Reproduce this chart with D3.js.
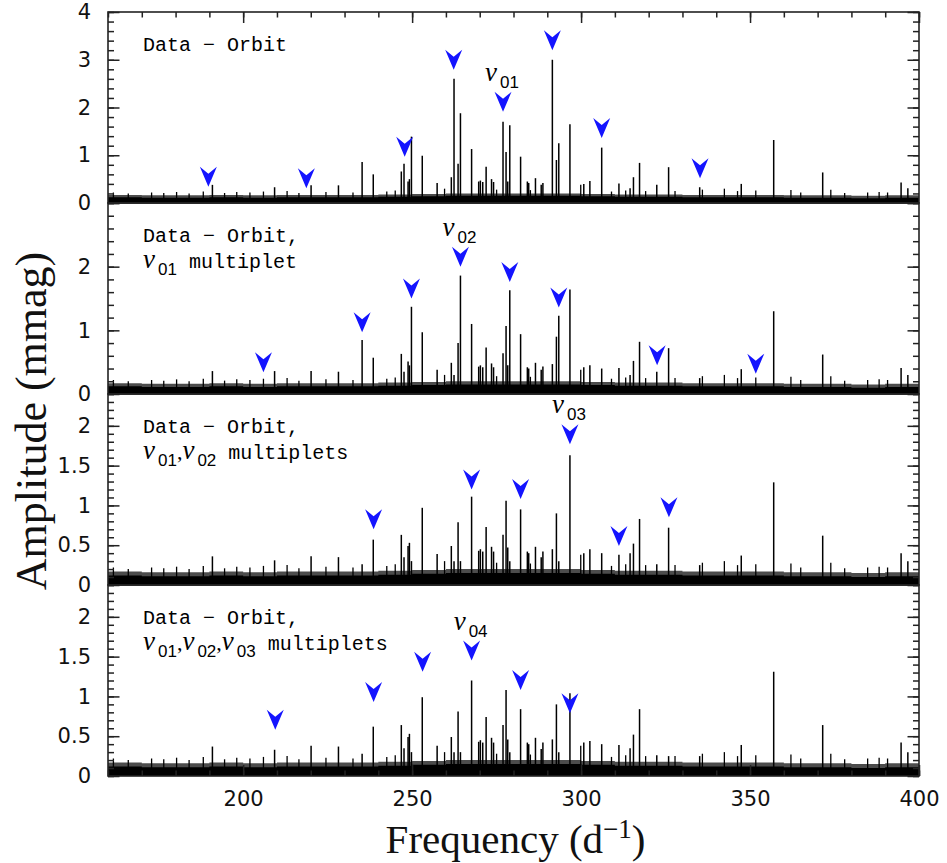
<!DOCTYPE html>
<meta charset="utf-8">
<script src="https://d3js.org/d3.v7.min.js"></script>
<style>
body { margin: 0; background: #fff; }
svg { display: block; }
text { white-space: pre; }
</style>
<body></body>
<script>

// ---- data ----
// frequencies (d^-1) of the visible peaks, shared by the four panels
var peakFreq = [190.9, 209.3, 220.1, 228.2, 235.2, 238.5, 246.8, 247.6, 248.8, 249.2,
  249.8, 253.0, 257.4, 261.6, 262.4, 263.6, 264.3, 267.6, 269.7, 270.2,
  270.9, 271.9, 273.5, 274.1, 276.9, 277.8, 278.3, 278.9, 282.1, 284.1,
  284.5, 286.5, 288.2, 288.7, 291.5, 292.7, 293.4, 296.7, 300.8, 302.6,
  306.1, 311.2, 314.5, 315.5, 317.3, 322.4, 325.9, 335.1, 347.4, 357.0,
  371.5, 394.7, 396.7];

// amplitudes (mmag), one list per panel
var ampOrbit = [0.38, 0.33, 0.37, 0.37, 0.86, 0.60, 0.66, 0.82, 0.45, 0.50,
  1.39, 0.99, 0.42, 0.54, 2.60, 0.82, 1.88, 1.13, 0.45, 0.47,
  0.44, 0.76, 0.50, 0.44, 1.70, 1.07, 0.45, 1.63, 0.97, 0.45,
  0.42, 0.52, 0.38, 0.42, 3.00, 0.90, 1.25, 1.65, 0.40, 0.46,
  1.16, 0.41, 0.31, 0.54, 0.84, 0.38, 0.75, 0.33, 0.40, 1.32,
  0.64, 0.43, 0.31];
var ampNu01 = [0.36, 0.36, 0.36, 0.35, 0.85, 0.57, 0.63, 0.35, 0.51, 0.45,
  1.37, 0.97, 0.38, 0.49, 0.30, 0.80, 1.86, 1.10, 0.43, 0.45,
  0.42, 0.73, 0.48, 0.42, 0.64, 1.07, 0.45, 1.63, 0.94, 0.42,
  0.40, 0.49, 0.38, 0.43, 0.47, 0.90, 1.23, 1.64, 0.42, 0.45,
  0.40, 0.41, 0.30, 0.52, 0.82, 0.35, 0.72, 0.25, 0.39, 1.30,
  0.62, 0.41, 0.30];
var ampNu02 = [0.36, 0.31, 0.36, 0.35, 0.26, 0.57, 0.63, 0.35, 0.49, 0.53,
  0.30, 0.97, 0.39, 0.49, 0.30, 0.79, 0.30, 1.11, 0.43, 0.45,
  0.42, 0.73, 0.48, 0.42, 0.63, 1.06, 0.47, 0.30, 0.95, 0.42,
  0.40, 0.48, 0.35, 0.42, 0.45, 0.90, 0.30, 1.63, 0.40, 0.45,
  0.40, 0.38, 0.40, 0.52, 0.83, 0.26, 0.72, 0.25, 0.37, 1.29,
  0.62, 0.40, 0.30];
var ampNu03 = [0.37, 0.33, 0.38, 0.37, 0.28, 0.62, 0.64, 0.35, 0.49, 0.53,
  0.30, 0.99, 0.38, 0.49, 0.30, 0.81, 0.30, 1.20, 0.43, 0.45,
  0.42, 0.74, 0.48, 0.42, 0.64, 1.08, 0.46, 0.30, 0.84, 0.42,
  0.40, 0.48, 0.34, 0.42, 0.46, 0.90, 0.30, 1.04, 0.42, 0.44,
  0.40, 0.39, 0.35, 0.52, 0.84, 0.26, 0.25, 0.25, 0.39, 1.31,
  0.64, 0.42, 0.30];

// small spikes poking out of the noise, same in every panel
var grassFreq = [161.6, 166.0, 172.9, 176.5, 180.3, 184.0, 188.2, 194.5, 198.1, 202.0,
  206.0, 213.0, 216.5, 224.5, 232.5, 242.5, 245.0, 259.6, 275.0, 285.0,
  299.9, 309.0, 313.2, 319.1, 327.8, 335.9, 342.4, 346.3, 351.7, 362.1,
  365.0, 373.9, 378.0, 384.8, 388.2, 390.7];
var grassAmp = [0.22, 0.20, 0.22, 0.21, 0.23, 0.20, 0.24, 0.21, 0.23, 0.22,
  0.24, 0.25, 0.21, 0.23, 0.22, 0.24, 0.26, 0.30, 0.28, 0.27,
  0.38, 0.24, 0.26, 0.25, 0.25, 0.28, 0.30, 0.25, 0.26, 0.27,
  0.22, 0.28, 0.21, 0.22, 0.23, 0.22];

// noise floor level (mmag), every 10 d^-1 from 160 to 400
var noiseFreq = [160, 170, 180, 190, 200, 210, 220, 230, 240, 250, 260, 270, 280,
  290, 300, 310, 320, 330, 340, 350, 360, 370, 380, 390, 400];
var noiseAmp = [0.12, 0.11, 0.11, 0.12, 0.11, 0.12, 0.12, 0.12, 0.13, 0.14, 0.15, 0.15, 0.15,
  0.15, 0.14, 0.13, 0.13, 0.12, 0.12, 0.12, 0.11, 0.11, 0.10, 0.11, 0.11];

// blue arrows: frequency and amplitude of the arrow tip
var arrowFreq = [
  [189.7, 218.7, 247.8, 262.3, 276.9, 291.5, 306.1, 335.2],
  [206.0, 235.2, 249.8, 264.3, 278.9, 293.4, 322.5, 351.7],
  [238.6, 267.6, 282.1, 296.7, 311.2, 326.0],
  [209.5, 238.6, 253.1, 267.6, 282.1, 296.7]
];
var arrowTip = [
  [0.34, 0.31, 0.97, 2.79, 1.91, 3.20, 1.36, 0.52],
  [0.34, 0.97, 1.50, 2.00, 1.76, 1.36, 0.45, 0.32],
  [0.70, 1.20, 1.08, 1.77, 0.49, 0.85],
  [0.58, 0.93, 1.31, 1.45, 1.08, 0.79]
];
// which arrow carries the nu label, and its subscript
var nuArrow = [4, 3, 3, 3];
var nuSub = ["01", "02", "03", "04"];

var yMax = [4, 3, 2.4, 2.4];
var yMajorStep = [1, 1, 0.5, 0.5];
var yMinorStep = [0.2, 0.2, 0.1, 0.1];
var yTickLabels = [[0, 1, 2, 3, 4], [0, 1, 2], [0, 0.5, 1, 1.5, 2], [0, 0.5, 1, 1.5, 2]];
var xTickLabels = [200, 250, 300, 350, 400];

var panelLine1 = ["Data \u2212 Orbit", "Data \u2212 Orbit,", "Data \u2212 Orbit,", "Data \u2212 Orbit,"];
var panelNus = [[], ["01"], ["01", "02"], ["01", "02", "03"]];
var panelWord = ["", " multiplet", " multiplets", " multiplets"];

var amps = [ampOrbit, ampNu01, ampNu02, ampNu03];

// ---- layout ----
var width = 947, height = 863;
var pLeft = 108, pRight = 919, pTop = 12, pBottom = 776;
var panelH = (pBottom - pTop) / 4;

var svg = d3.select("body").append("svg")
  .attr("width", width)
  .attr("height", height);

var x = d3.scaleLinear().domain([160, 400]).range([pLeft, pRight]);

var defs = svg.append("defs");

function richText(sel, xx, yy, segs, anchor) {
  var t = sel.append("text").attr("x", xx).attr("y", yy)
    .attr("text-anchor", anchor || "start").attr("fill", "#000");
  var shift = 0;
  segs.forEach(function(s) {
    var ts = t.append("tspan").text(s.text);
    var want = s.kind === "sub" ? 7 : 0;
    if (want !== shift) { ts.attr("dy", want - shift); shift = want; }
    if (s.kind === "nu") {
      ts.attr("font-family", "'Liberation Serif', serif").attr("font-style", "italic").attr("font-size", 27);
    } else if (s.kind === "sub") {
      ts.attr("dx", 3).attr("font-family", "'Liberation Sans', sans-serif").attr("font-size", 17);
    } else if (s.kind === "comma") {
      ts.attr("font-family", "'Liberation Serif', serif").attr("font-size", 22);
    } else {
      ts.attr("font-family", "'Liberation Mono', monospace").attr("font-size", 20);
    }
  });
  return t;
}

for (var i = 0; i < 4; i++) {
  var y0 = pTop + i * panelH, y1 = pTop + (i + 1) * panelH;
  var y = d3.scaleLinear().domain([0, yMax[i]]).range([y1, y0]);
  var g = svg.append("g").attr("class", "panel");

  defs.append("clipPath").attr("id", "clip" + i)
    .append("rect").attr("x", pLeft).attr("y", y0).attr("width", pRight - pLeft).attr("height", panelH);

  var plot = g.append("g").attr("clip-path", "url(#clip" + i + ")");

  // noise band: solid floor plus a ragged darker fringe
  var noise = noiseFreq.map(function(f, k) { return {f: f, a: noiseAmp[k]}; });
  plot.append("path")
    .datum(noise)
    .attr("fill", "#000")
    .attr("fill-opacity", 0.7)
    .attr("d", d3.area().curve(d3.curveStepAfter)
      .x(function(d) { return x(d.f); })
      .y0(y(0))
      .y1(function(d) { return y(d.a + 0.05); }));
  plot.append("path")
    .datum(noise)
    .attr("fill", "#000")
    .attr("d", d3.area().curve(d3.curveStepAfter)
      .x(function(d) { return x(d.f); })
      .y0(y(0))
      .y1(function(d) { return y(d.a); }));

  // small spikes
  plot.selectAll(".grass")
    .data(grassFreq.map(function(f, k) { return {f: f, a: grassAmp[k]}; }))
    .enter().append("line")
    .attr("class", "grass")
    .attr("x1", function(d) { return x(d.f); })
    .attr("x2", function(d) { return x(d.f); })
    .attr("y1", y(0))
    .attr("y2", function(d) { return y(d.a); })
    .attr("stroke", "#000")
    .attr("stroke-width", 1.3);

  // peaks
  plot.selectAll(".peak")
    .data(peakFreq.map(function(f, k) { return {f: f, a: amps[i][k]}; }))
    .enter().append("line")
    .attr("class", "peak")
    .attr("x1", function(d) { return x(d.f); })
    .attr("x2", function(d) { return x(d.f); })
    .attr("y1", y(0))
    .attr("y2", function(d) { return y(d.a); })
    .attr("stroke", "#000")
    .attr("stroke-width", 1.5);

  // frame
  g.append("rect")
    .attr("x", pLeft).attr("y", y0)
    .attr("width", pRight - pLeft).attr("height", panelH)
    .attr("fill", "none").attr("stroke", "#222").attr("stroke-width", 1.6);

  // y ticks, inward on both sides
  var majors = d3.range(0, yMax[i] + 1e-9, yMajorStep[i]);
  var minors = d3.range(0, yMax[i] + 1e-9, yMinorStep[i]);
  var labels = yTickLabels[i];
  g.append("g").attr("transform", "translate(" + pLeft + ",0)")
    .call(d3.axisLeft(y).tickValues(minors).tickSize(-6).tickFormat(""));
  g.append("g").attr("transform", "translate(" + pLeft + ",0)")
    .call(d3.axisLeft(y).tickValues(majors).tickSize(-11.5).tickFormat(""));
  g.append("g").attr("transform", "translate(" + pLeft + ",0)")
    .attr("class", "ylab")
    .call(d3.axisLeft(y).tickValues(labels).tickSize(0).tickPadding(17)
      .tickFormat(function(d) { return String(d); }));
  g.append("g").attr("transform", "translate(" + pRight + ",0)")
    .call(d3.axisRight(y).tickValues(minors).tickSize(-6).tickFormat(""));
  g.append("g").attr("transform", "translate(" + pRight + ",0)")
    .call(d3.axisRight(y).tickValues(majors).tickSize(-11.5).tickFormat(""));

  // arrows
  g.selectAll(".arrow")
    .data(arrowFreq[i].map(function(f, k) { return {f: f, a: arrowTip[i][k]}; }))
    .enter().append("path")
    .attr("class", "arrow")
    .attr("transform", function(d) { return "translate(" + x(d.f) + "," + y(d.a) + ")"; })
    .attr("d", "M0,0L-8.5,-20L0,-13L8.5,-20Z")
    .attr("fill", "#1414ff");

  // nu label above the marked arrow
  var ia = nuArrow[i];
  richText(g, x(arrowFreq[i][ia]) - 1, y(arrowTip[i][ia]) - 31,
    [{text: "\u03bd", kind: "nu"}, {text: nuSub[i], kind: "sub"}], "middle");

  // panel caption
  richText(g, 143, y0 + 39, [{text: panelLine1[i], kind: "mono"}]);
  if (panelNus[i].length) {
    var segs = [];
    panelNus[i].forEach(function(s, k) {
      if (k > 0) segs.push({text: ",", kind: "comma"});
      segs.push({text: "\u03bd", kind: "nu"});
      segs.push({text: s, kind: "sub"});
    });
    segs.push({text: panelWord[i], kind: "mono"});
    richText(g, 143, y0 + 65, segs);
  }

  // x ticks: top of first panel, bottom of last
  if (i === 0) {
    g.append("g").attr("transform", "translate(0," + y0 + ")")
      .call(d3.axisTop(x).ticks(24).tickSize(-5.5).tickFormat(""));
    g.append("g").attr("transform", "translate(0," + y0 + ")")
      .call(d3.axisTop(x).tickValues(xTickLabels).tickSize(-11).tickFormat(""));
  }
  if (i === 3) {
    g.append("g").attr("transform", "translate(0," + y1 + ")")
      .call(d3.axisBottom(x).ticks(24).tickSize(-5.5).tickFormat(""));
    g.append("g").attr("transform", "translate(0," + y1 + ")")
      .attr("class", "xlab")
      .call(d3.axisBottom(x).tickValues(xTickLabels).tickSize(-11).tickPadding(15));
  }
}

svg.selectAll(".domain").remove();
svg.selectAll(".tick line").attr("stroke", "#222").attr("stroke-width", 1.5);
svg.selectAll(".ylab text, .xlab text")
  .attr("font-family", "'DejaVu Sans', sans-serif")
  .attr("font-size", 21)
  .attr("fill", "#111");

// axis titles
svg.append("text")
  .attr("transform", "translate(46," + 421 + ") rotate(-90)")
  .attr("text-anchor", "middle")
  .attr("font-family", "'Liberation Serif', serif")
  .attr("font-size", 44)
  .attr("fill", "#111")
  .text("Amplitude (mmag)");

var xt = svg.append("text")
  .attr("x", (pLeft + pRight) / 2 + 2)
  .attr("y", 853)
  .attr("text-anchor", "middle")
  .attr("font-family", "'Liberation Serif', serif")
  .attr("font-size", 41)
  .attr("fill", "#111");
xt.append("tspan").text("Frequency (d");
xt.append("tspan").attr("dy", -15).attr("font-size", 27).text("\u22121");
xt.append("tspan").attr("dy", 15).text(")");

</script>
